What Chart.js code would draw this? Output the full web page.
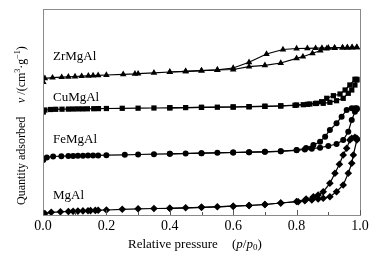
<!DOCTYPE html>
<html><head><meta charset="utf-8">
<script src="https://cdn.jsdelivr.net/npm/chart.js@4/dist/chart.umd.min.js"></script>
<style>html,body{margin:0;padding:0;background:#fff}canvas{display:block}</style>
</head><body>
<canvas id="c" width="377" height="259"></canvas>
<script>
// Relative pressure (p/p0) and quantity adsorbed (arbitrary offset units)
const zrAdsP = [0.001,0.006,0.03,0.059,0.08,0.101,0.122,0.143,0.158,0.174,0.2,0.253,0.29,0.3,0.35,0.4,0.45,0.5,0.55,0.6,0.65,0.7,0.75,0.8,0.82,0.85,0.875,0.895,0.92,0.945,0.96,0.975,0.99];
const zrAdsV = [133,136.7,137.3,137.8,138.2,138.5,138.8,139.1,139.4,139.7,140,140.7,141.1,141.3,142.2,143,143.7,144.3,145,145.5,148.3,149.7,152,156.7,158.3,161.7,164.3,166.5,167,167.3,167.5,167.5,167.7];
const zrDesP = [0.99,0.975,0.96,0.945,0.92,0.9,0.88,0.86,0.834,0.8,0.757,0.705,0.65,0.6,0.55,0.5,0.45,0.4];
const zrDesV = [167.7,167.7,167.5,167.5,167.3,167.2,167,166.8,166.7,166.5,165.5,161,152.7,147,145.2,144.4,143.7,143];

const cuAdsP = [0.001,0.006,0.024,0.04,0.06,0.08,0.095,0.11,0.125,0.14,0.16,0.175,0.2,0.25,0.3,0.35,0.4,0.45,0.5,0.55,0.6,0.65,0.7,0.75,0.795,0.821,0.842,0.863,0.884,0.905,0.926,0.947,0.963,0.974,0.984,0.99];
const cuAdsV = [103,105,105.5,105.7,105.8,105.9,106,106.1,106.1,106.2,106.3,106.4,106.5,106.7,106.8,107,107.2,107.4,107.6,107.8,108,108.3,108.7,109,109.7,110.3,111,111.7,111.7,112.7,114.3,116.7,121.7,125,130,135];
const cuDesP = [0.99,0.984,0.968,0.953,0.937,0.916,0.895,0.879,0.86,0.834,0.8,0.75,0.7,0.65,0.6,0.5,0.4];
const cuDesV = [135.7,135.7,130,125,121,119.3,116.7,113.3,111.5,110.7,110,109.2,108.7,108.3,108,107.6,107.2];

const feAdsP = [0.001,0.012,0.032,0.058,0.08,0.095,0.11,0.126,0.142,0.158,0.174,0.2,0.258,0.3,0.35,0.4,0.45,0.5,0.55,0.6,0.65,0.7,0.75,0.8,0.826,0.848,0.874,0.9,0.926,0.947,0.963,0.974,0.984,0.99];
const feAdsV = [55,57.5,58.5,58.8,59,59.1,59.2,59.3,59.4,59.5,59.6,59.8,60.2,60.5,60.8,61.2,61.5,61.8,62.2,62.5,62.8,63.2,63.7,64.7,65.5,66.3,67.3,69,71,75,83.3,95,103.3,105.7];
const feDesP = [0.99,0.984,0.974,0.958,0.942,0.926,0.905,0.89,0.874,0.853,0.83,0.8,0.75,0.7,0.65,0.6,0.5,0.4];
const feDesV = [106.7,106.7,106.7,105,98.3,91.7,85,78.3,73.3,70,67,65,63.8,63.2,62.8,62.5,61.8,61.2];

const mgAdsP = [0.001,0.006,0.026,0.055,0.08,0.095,0.11,0.126,0.142,0.15,0.165,0.174,0.2,0.25,0.3,0.35,0.4,0.45,0.5,0.55,0.6,0.65,0.7,0.75,0.805,0.826,0.848,0.868,0.884,0.905,0.926,0.947,0.963,0.974,0.979,0.99];
const mgAdsV = [1,1.5,2.7,3.2,3.5,3.7,3.9,4.1,4.3,4.4,4.6,4.8,5,5.7,6.2,6.5,6.7,7.2,7.7,8.2,8.8,9.5,10.5,12,13.3,14.3,15,16,16.7,18.3,23.3,30,41.7,51.7,60,75];
const mgDesP = [0.99,0.984,0.974,0.968,0.958,0.947,0.935,0.921,0.905,0.884,0.868,0.853,0.83,0.8,0.75,0.7,0.65,0.6,0.5,0.4];
const mgDesV = [76.7,77.7,76.7,75,66.7,60,50.7,41.7,31.7,23.3,20,18.3,16,13.5,12,10.5,9.5,8.8,7.7,6.7];

const seriesNames = ['ZrMgAl','CuMgAl','FeMgAl','MgAl'];
const xTickValues = [0,0.1,0.2,0.3,0.4,0.5,0.6,0.7,0.8,0.9,1.0];

const SERIF = '"Liberation Serif", "Times New Roman", serif';
const pts = (p, v) => p.map((x, i) => ({x: x, y: v[i]}));
function ds(p, v, style, r) {
  return {data: pts(p, v), borderColor: '#000', borderWidth: 1.2, backgroundColor: '#000',
    pointStyle: style, pointRadius: r, pointBorderWidth: 0, pointBackgroundColor: '#000', tension: 0};
}

const labelPlugin = {
  id: 'decor',
  afterDraw(chart) {
    const ctx = chart.ctx, a = chart.chartArea, xs = chart.scales.x;
    ctx.save();
    ctx.strokeStyle = '#8a8a8a'; ctx.lineWidth = 1;
    ctx.strokeRect(Math.round(a.left) + 0.5, Math.round(a.top) + 0.5, Math.round(a.right - a.left), Math.round(a.bottom - a.top));
    ctx.strokeStyle = '#555';
    xTickValues.forEach((v, i) => {
      const px = Math.round(xs.getPixelForValue(v)) + 0.5;
      const len = i % 2 === 0 ? 5 : 3;
      ctx.beginPath(); ctx.moveTo(px, a.bottom); ctx.lineTo(px, a.bottom - len); ctx.stroke();
    });
    ctx.fillStyle = '#000';
    ctx.font = '13px ' + SERIF; ctx.textBaseline = 'middle'; ctx.textAlign = 'left';
    const labY = [57, 98, 140, 195.5];
    seriesNames.forEach((n, i) => ctx.fillText(n, a.left + 10, labY[i]));
    ctx.font = '13px ' + SERIF;
    let x = 128; const yb = 245;
    ctx.fillText('Relative pressure', x, yb);
    x = 232;
    const put = (t, f, dy) => { ctx.font = f; ctx.fillText(t, x, yb + (dy || 0)); x += ctx.measureText(t).width; };
    put('(', '13px ' + SERIF);
    put('p', 'italic 13px ' + SERIF);
    put('/', '13px ' + SERIF);
    put('p', 'italic 13px ' + SERIF);
    put('0', '9px ' + SERIF, 3);
    put(')', '13px ' + SERIF);
    ctx.save();
    ctx.translate(22, 205); ctx.rotate(-Math.PI / 2);
    ctx.font = '12px ' + SERIF; ctx.textBaseline = 'middle';
    ctx.fillText('Quantity adsorbed', 0, 0);
    let xx = 102;
    const put2 = (t, f, dy) => { ctx.font = f; ctx.fillText(t, xx, dy || 0); xx += ctx.measureText(t).width; };
    put2('v', 'italic 12px ' + SERIF);
    put2(' /(cm', '12px ' + SERIF);
    put2('3', '8px ' + SERIF, -4);
    put2('·g', '12px ' + SERIF);
    put2('−1', '8px ' + SERIF, -4);
    put2(')', '12px ' + SERIF);
    ctx.restore();
    ctx.restore();
  }
};

new Chart(document.getElementById('c'), {
  type: 'line',
  data: {
    datasets: [
      ds(zrAdsP, zrAdsV, 'triangle', 3.8), ds(zrDesP, zrDesV, 'triangle', 3.8),
      ds(cuAdsP, cuAdsV, 'rect', 3.7), ds(cuDesP, cuDesV, 'rect', 3.7),
      ds(feAdsP, feAdsV, 'circle', 3), ds(feDesP, feDesV, 'circle', 3),
      ds(mgAdsP, mgAdsV, 'rectRot', 3.8), ds(mgDesP, mgDesV, 'rectRot', 3.8)
    ]
  },
  options: {
    responsive: false, animation: false, devicePixelRatio: 1,
    layout: {padding: {left: 0, right: 17, top: 9, bottom: 0}},
    plugins: {legend: {display: false}, tooltip: {enabled: false}},
    scales: {
      x: {type: 'linear', min: 0, max: 1,
        afterBuildTicks: s => { s.ticks = xTickValues.map(v => ({value: v})); },
        ticks: {autoSkip: false, maxRotation: 0, padding: 3, color: '#000',
          font: {family: SERIF, size: 14},
          callback: (v, i) => (i % 2 === 0 ? v.toFixed(1) : '')},
        grid: {display: false, drawTicks: false}, border: {display: false},
        afterFit: s => { s.height = 44; }
      },
      y: {type: 'linear', min: 0, max: 206,
        ticks: {display: false}, grid: {display: false, drawTicks: false}, border: {display: false},
        afterFit: s => { s.width = 43; }
      }
    }
  },
  plugins: [labelPlugin]
});
</script>
</body></html>
